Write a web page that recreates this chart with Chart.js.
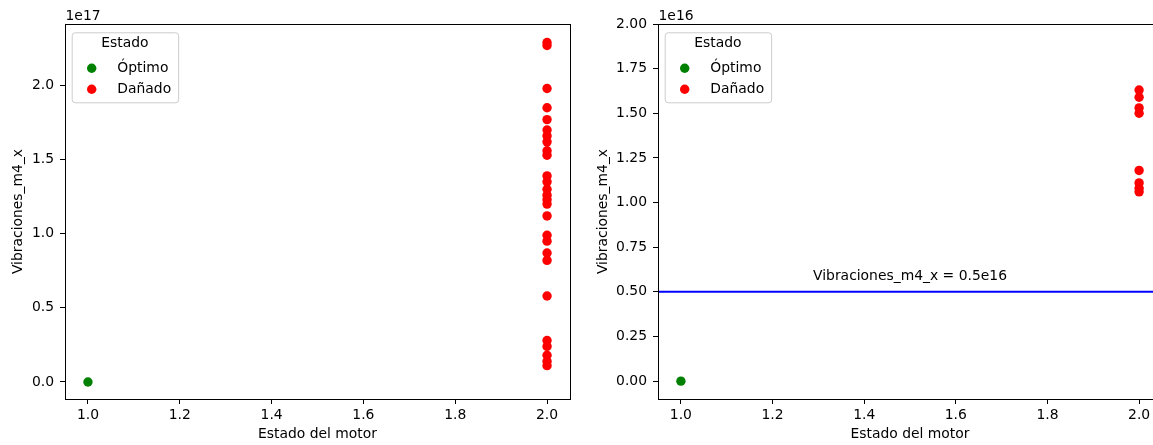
<!DOCTYPE html>
<html>
<head>
<meta charset="utf-8">
<script src="https://cdn.jsdelivr.net/npm/chart.js@4/dist/chart.umd.min.js"></script>
<style>
  html, body { margin: 0; padding: 0; background: #fff; overflow: hidden; }
  body { width: 1153px; height: 445px; position: relative; }
  .panel { position: absolute; top: 0; height: 445px; }
  #left { left: 0; width: 580px; }
  #right { left: 593px; width: 579px; }
</style>
</head>
<body>
<div class="panel" id="left"><canvas id="chartLeft" width="580" height="445"></canvas></div>
<div class="panel" id="right"><canvas id="chartRight" width="579" height="445"></canvas></div>
<script>
/* Vibraciones_m4_x vs Estado del motor — two scatter panels */

const ESTADO_OPTIMO = 1;
const ESTADO_DANADO = 2;

// left panel: all samples (scale 1e17)
const allOptimo = [0];
const allDanado = [
  2.29e17, 2.27e17, 1.98e17, 1.85e17, 1.77e17, 1.70e17, 1.66e17, 1.62e17,
  1.56e17, 1.53e17, 1.39e17, 1.35e17, 1.30e17, 1.26e17, 1.23e17, 1.20e17,
  1.12e17, 0.99e17, 0.95e17, 0.87e17, 0.82e17, 0.58e17, 0.28e17, 0.24e17,
  0.18e17, 0.14e17, 0.11e17
];

// right panel: samples below 2e16 (scale 1e16)
const subOptimo = [0];
const subDanado = [1.63e16, 1.59e16, 1.53e16, 1.50e16, 1.18e16, 1.11e16, 1.08e16, 1.06e16];

const umbral = 0.5e16;

const xTicks = [1.0, 1.2, 1.4, 1.6, 1.8, 2.0];
const leftYTicks = [0, 0.5, 1.0, 1.5, 2.0];
const rightYTicks = [0, 0.25, 0.5, 0.75, 1.0, 1.25, 1.5, 1.75, 2.0];

const FONT = 13.9;
Chart.defaults.font.family = '"DejaVu Sans", sans-serif';
Chart.defaults.font.size = FONT;
Chart.defaults.color = '#000';

const toPoints = (estado, ys) => ys.map(y => ({ x: estado, y }));

// full box around the axes
const frame = {
  id: 'frame',
  afterDraw(chart) {
    const { ctx, chartArea: a } = chart;
    ctx.save();
    ctx.strokeStyle = '#000';
    ctx.lineWidth = 1;
    ctx.strokeRect(Math.round(a.left) + 0.5, Math.round(a.top) + 0.5,
      Math.round(a.right - a.left), Math.round(a.bottom - a.top));
    ctx.restore();
  }
};

// "1e17" style multiplier above the y axis
const offsetText = {
  id: 'offsetText',
  afterDraw(chart, args, opts) {
    const { ctx, chartArea: a } = chart;
    ctx.save();
    ctx.font = `${FONT}px "DejaVu Sans", sans-serif`;
    ctx.fillStyle = '#000';
    ctx.textAlign = 'left';
    ctx.textBaseline = 'alphabetic';
    ctx.fillText(opts.text, a.left + 0.5, a.top - 4);
    ctx.restore();
  }
};

// legend box with title inside the axes, upper left
const boxLegend = {
  id: 'boxLegend',
  afterDraw(chart, args, opts) {
    const { ctx, chartArea: a } = chart;
    const items = chart.data.datasets.filter(d => d.inLegend);
    ctx.save();
    ctx.font = `${FONT}px "DejaVu Sans", sans-serif`;
    const left = a.left + 6.7, top = a.top + 8.3;
    const labelX = left + 45.6;
    const maxW = Math.max(...items.map(d => ctx.measureText(d.label).width));
    const w = labelX + maxW + 7 - left;
    const h = 70;
    ctx.beginPath();
    ctx.roundRect(left + 0.5, top + 0.5, w, h, 3);
    ctx.fillStyle = 'rgba(255,255,255,0.8)';
    ctx.fill();
    ctx.strokeStyle = '#cccccc';
    ctx.lineWidth = 1;
    ctx.stroke();
    ctx.fillStyle = '#000';
    ctx.textBaseline = 'middle';
    ctx.textAlign = 'center';
    ctx.fillText(opts.title, left + w / 2, top + 11.5);
    ctx.textAlign = 'left';
    items.forEach((d, i) => {
      const y = top + 36 + i * 21;
      ctx.beginPath();
      ctx.arc(left + 20, y, d.pointRadius, 0, Math.PI * 2);
      ctx.fillStyle = d.backgroundColor;
      ctx.fill();
      ctx.fillStyle = '#000';
      ctx.fillText(d.label, labelX, y);
    });
    ctx.restore();
  }
};

// text placed at a data position
const dataLabel = {
  id: 'dataLabel',
  afterDraw(chart, args, opts) {
    if (!opts.text) return;
    const { ctx, scales } = chart;
    ctx.save();
    ctx.font = `${FONT}px "DejaVu Sans", sans-serif`;
    ctx.fillStyle = '#000';
    ctx.textAlign = 'center';
    ctx.textBaseline = 'bottom';
    ctx.fillText(opts.text, scales.x.getPixelForValue(opts.x), scales.y.getPixelForValue(opts.y));
    ctx.restore();
  }
};

function scatterSet(label, color, estado, ys) {
  return {
    label,
    data: toPoints(estado, ys),
    backgroundColor: color,
    borderWidth: 0,
    pointRadius: 4.7,
    inLegend: true,
  };
}

function makePanel(canvasId, opt) {
  const ctx = document.getElementById(canvasId);
  const datasets = [
    scatterSet('Óptimo', 'green', ESTADO_OPTIMO, opt.optimo),
    scatterSet('Dañado', 'red', ESTADO_DANADO, opt.danado),
  ];
  if (opt.line != null) {
    datasets.push({
      type: 'line',
      label: 'umbral',
      data: [{ x: 0.95, y: opt.line }, { x: 2.05, y: opt.line }],
      borderColor: 'blue',
      borderWidth: 2,
      pointRadius: 0,
      inLegend: false,
    });
  }
  const tickStyle = { drawOnChartArea: false, drawTicks: true, tickLength: 5, color: '#000' };

  return new Chart(ctx, {
    type: 'scatter',
    data: { datasets },
    options: {
      responsive: false,
      animation: false,
      events: [],
      layout: { padding: { top: 24, right: 10, left: 0, bottom: 0 } },
      scales: {
        x: {
          type: 'linear',
          min: 0.95,
          max: 2.05,
          grid: tickStyle,
          border: { display: false },
          afterBuildTicks: s => { s.ticks = xTicks.map(v => ({ value: v })); },
          afterFit: s => { s.height = 46; },
          ticks: { padding: 3, callback: v => v.toFixed(1) },
          title: { display: true, text: 'Estado del motor', padding: { top: 0, bottom: 2 } },
        },
        y: {
          min: opt.yMin,
          max: opt.yMax,
          grid: tickStyle,
          border: { display: false },
          afterBuildTicks: s => { s.ticks = opt.yTicks.map(v => ({ value: v * opt.exp })); },
          afterFit: s => { s.width = 65; },
          ticks: { padding: 6, callback: v => (v / opt.exp).toFixed(opt.decimals) },
          title: { display: true, text: 'Vibraciones_m4_x', padding: { top: opt.titlePad, bottom: 0 } },
        }
      },
      plugins: {
        legend: { display: false },
        tooltip: { enabled: false },
        offsetText: { text: opt.expText },
        boxLegend: { title: 'Estado' },
        dataLabel: opt.label || {},
      }
    },
    plugins: [frame, offsetText, boxLegend, dataLabel]
  });
}

makePanel('chartLeft', {
  optimo: allOptimo,
  danado: allDanado,
  yMin: -0.115e17,
  yMax: 2.415e17,
  yTicks: leftYTicks,
  exp: 1e17,
  expText: '1e17',
  decimals: 1,
  titlePad: 10,
});

makePanel('chartRight', {
  optimo: subOptimo,
  danado: subDanado,
  line: umbral,
  yMin: -0.1e16,
  yMax: 2.0e16,
  yTicks: rightYTicks,
  exp: 1e16,
  expText: '1e16',
  decimals: 2,
  titlePad: 2,
  label: { x: 1.5, y: 0.55e16, text: 'Vibraciones_m4_x = ' + (umbral / 1e16) + 'e16' },
});
</script>
</body>
</html>
